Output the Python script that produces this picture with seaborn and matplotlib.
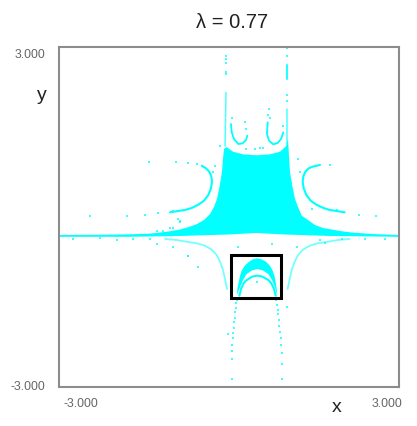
import matplotlib
matplotlib.use('Agg')
import matplotlib.pyplot as plt
from matplotlib.patches import Rectangle
from matplotlib.transforms import ScaledTranslation
import pandas as pd
import seaborn as sns

# main filled body of the set
body_x = [-3.0, -2.276, -1.747, -1.57, -1.394, -1.218, -1.041, -0.865, -0.706, -0.565, -0.441, -0.335, -0.265,
          -0.212, -0.168, -0.124, -0.106, -0.088, -0.041, 0.071, 0.247, 0.489, 0.723, 0.9, 1.006, 1.041,
          1.076, 1.121, 1.165, 1.218, 1.283, 1.394, 1.518, 1.659, 1.994, 2.17, 2.523, 3.0,
          3.0, 1.782, 0.988, 0.476, 0.0, -0.865, -1.747, -3.0]
body_y = [-0.318, -0.314, -0.305, -0.3, -0.293, -0.274, -0.252, -0.221, -0.176, -0.124, -0.053, 0.053, 0.176,
          0.318, 0.529, 0.794, 1.023, 1.2, 1.235, 1.152, 1.106, 1.089, 1.106, 1.152, 1.248, 1.376,
          0.794, 0.529, 0.318, 0.176, 0.023, -0.053, -0.141, -0.194, -0.252, -0.274, -0.3, -0.318,
          -0.349, -0.335, -0.309, -0.282, -0.309, -0.335, -0.349, -0.349]

# small crescent inside the box
crescent_x = [0.136, 0.15, 0.171, 0.194, 0.224, 0.274, 0.341, 0.415, 0.499, 0.582, 0.653, 0.718, 0.771, 0.803,
              0.824, 0.842, 0.852, 0.812, 0.759, 0.693, 0.6, 0.499, 0.406, 0.312, 0.247, 0.194]
crescent_y = [-1.388, -1.252, -1.153, -1.041, -0.948, -0.865, -0.8, -0.75, -0.729, -0.75, -0.789, -0.856, -0.948,
              -1.041, -1.153, -1.27, -1.388, -1.24, -1.112, -1.006, -0.944, -0.918, -0.944, -1.006, -1.112, -1.24]

# thin curves
arch_x = [0.182, 0.212, 0.252, 0.291, 0.341, 0.415, 0.499, 0.582, 0.665, 0.715, 0.753, 0.794, 0.824]
arch_y = [-1.388, -1.27, -1.182, -1.129, -1.094, -1.05, -1.035, -1.05, -1.094, -1.129, -1.182, -1.27, -1.388]
u_left_x = [0.035, 0.048, 0.088, 0.164, 0.242, 0.3, 0.323]
u_left_y = [1.641, 1.495, 1.376, 1.288, 1.3, 1.359, 1.435]
u_right_x = [0.683, 0.67, 0.706, 0.782, 0.859, 0.918, 0.958]
u_right_y = [1.671, 1.465, 1.346, 1.283, 1.306, 1.376, 1.495]
lobe_left_x = [-0.482, -0.406, -0.348, -0.312, -0.3, -0.318, -0.365, -0.441, -0.542, -0.658, -0.776, -0.865, -1.041]
lobe_left_y = [0.905, 0.859, 0.799, 0.718, 0.623, 0.506, 0.388, 0.288, 0.217, 0.159, 0.124, 0.111, 0.083]
lobe_right_x = [2.04, 1.866, 1.776, 1.665, 1.542, 1.441, 1.365, 1.318, 1.3, 1.312, 1.348, 1.406, 1.482, 1.606]
lobe_right_y = [0.083, 0.111, 0.124, 0.159, 0.217, 0.288, 0.388, 0.506, 0.623, 0.718, 0.799, 0.859, 0.89, 0.918]
low_left_x = [-1.129, -0.923, -0.746, -0.57, -0.424, -0.305, -0.217, -0.159, -0.106, -0.071, -0.035]
low_right_x = [2.129, 1.923, 1.746, 1.57, 1.424, 1.305, 1.217, 1.159, 1.106, 1.071, 1.035]
low_y = [-0.388, -0.406, -0.436, -0.464, -0.506, -0.577, -0.671, -0.789, -0.935, -1.094, -1.27]
stem_left_x = [-0.053, -0.06, -0.07]
stem_left_y = [2.2, 1.8, 1.25]
stem_right_a_y = [2.682, 2.435]
stem_right_b_y = [1.906, 1.288]
stem_right_x = [1.023, 1.023]

# loose points
dots_x = [-0.053, -0.053, -0.053, -0.053, -0.053, 1.023, 1.023, 1.03, 1.02,
          0.14, 0.13, 0.12, 0.11, 0.1, 0.09, 0.08, 0.075, 0.07, 0.06, 0.05, 0.05, 0.045,
          0.83, 0.85, 0.86, 0.87, 0.88, 0.89, 0.9, 0.91, 0.92, 0.93, 0.93, 0.94,
          -1.41, -0.935, -0.72, -0.565, -2.45, -1.8, -1.48, -1.25, -0.99, -0.865, -1.04, -1.27,
          -2.75, -2.28, -1.98, -1.69, -1.39, -1.27, -0.99, -0.72, -0.547, -0.72, -0.018, 0.16, 0.76, 1.02, 1.2,
          -0.159, -0.247, -0.282, 1.218, 1.253, 1.465, 1.78, 1.9, 2.3, 2.6, 1.6, 1.7, 2.0, 2.4, 2.75,
          0.3, 0.6, 0.72, 0.05, 0.95, 0.5, 0.45, 0.55,
          -1.165, -0.988, -0.865, -0.9, 0.3, 0.29, 0.69, 0.7]
dots_y = [2.841, 2.788, 2.717, 2.559, 2.523, 2.98, 2.85, 2.15, 2.05,
          -1.46, -1.52, -1.6, -1.68, -1.78, -1.86, -1.96, -2.05, -2.14, -2.25, -2.36, -2.5, -2.86,
          -1.46, -1.55, -1.64, -1.72, -1.82, -1.93, -2.03, -2.14, -2.26, -2.4, -2.6, -2.86,
          0.97, 0.97, 0.95, 0.935, 0.018, 0.018, 0.035, 0.07, 0.106, -0.07, -0.194, -0.247,
          -0.388, -0.37, -0.406, -0.388, -0.388, -0.476, -0.529, -0.688, -0.882, -0.69, -2.06, -0.53, -0.476,
          -1.59, -0.53,
          1.253, 0.9, 0.794, 1.023, 0.794, 0.141, 0.92, 0.12, 0.03, 0.02, -0.4, -0.45, -0.39, -0.38, -0.39,
          1.2, 1.21, 1.75, 1.75, 1.6, -1.15, 1.2, 1.21,
          -0.247, -0.194, -0.088, -0.035, 1.55, 1.68, 1.8, 1.9]

box_x = [0.03, 0.918]
box_y = [-1.429, -0.665]

tick_vals = [-3, 3]
tick_labels = ['-3.000', '3.000']

CYAN = '#00ffff'
GREY = '#666666'


def draw_curve(ax, xs, ys, width=1.1, alpha=1.0):
    sns.lineplot(x=xs, y=ys, ax=ax, color=CYAN, lw=width, alpha=alpha, sort=False, estimator=None, errorbar=None)


def plot_set():
    sns.set_style('white')
    plt.rcParams['font.family'] = ['Liberation Sans', 'DejaVu Sans']

    fig = plt.figure(figsize=(4.17, 4.27), dpi=100)
    ax = fig.add_axes([59 / 417, 39 / 427, 340 / 417, 340 / 427])

    ax.fill(body_x, body_y, color=CYAN, lw=0)
    ax.fill(crescent_x, crescent_y, color=CYAN, lw=0)

    draw_curve(ax, arch_x, arch_y, 1.5)
    draw_curve(ax, u_left_x, u_left_y, 1.3)
    draw_curve(ax, u_right_x, u_right_y, 1.3)
    draw_curve(ax, lobe_left_x, lobe_left_y, 1.5)
    draw_curve(ax, lobe_right_x, lobe_right_y, 1.5)
    draw_curve(ax, low_left_x, low_y, 1.3, 0.55)
    draw_curve(ax, low_right_x, low_y, 1.3, 0.55)
    draw_curve(ax, stem_left_x, stem_left_y, 1.1, 0.7)
    draw_curve(ax, stem_right_x, stem_right_a_y, 1.5, 0.85)
    draw_curve(ax, stem_right_x, stem_right_b_y, 1.1, 0.7)

    points = pd.DataFrame({'x': dots_x, 'y': dots_y})
    sns.scatterplot(data=points, x='x', y='y', ax=ax, color=CYAN, s=2, alpha=0.75, linewidth=0, marker='s')

    ax.add_patch(Rectangle((box_x[0], box_y[0]), box_x[1] - box_x[0], box_y[1] - box_y[0],
                           fill=False, ec='black', lw=2.2, zorder=5))

    ax.set_xlim(-3, 3)
    ax.set_ylim(-3, 3)
    ax.set_xticks(tick_vals)
    ax.set_yticks(tick_vals)
    ax.set_xticklabels(tick_labels, fontsize=8.8, color=GREY)
    ax.set_yticklabels(tick_labels, fontsize=8.8, color=GREY)
    ax.tick_params(axis='both', length=0)
    ax.tick_params(axis='x', pad=7)
    ax.tick_params(axis='y', pad=10)

    # corner labels sit inside the axis span
    xlabs = ax.get_xticklabels()
    xlabs[0].set_ha('left')
    xlabs[1].set_ha('right')
    xlabs[0].set_transform(xlabs[0].get_transform() + ScaledTranslation(0.04, 0, fig.dpi_scale_trans))
    xlabs[1].set_transform(xlabs[1].get_transform() + ScaledTranslation(0.03, 0, fig.dpi_scale_trans))
    ylabs = ax.get_yticklabels()
    ylabs[0].set_transform(ylabs[0].get_transform() + ScaledTranslation(0, 0.023, fig.dpi_scale_trans))
    ylabs[1].set_transform(ylabs[1].get_transform() + ScaledTranslation(0, -0.06, fig.dpi_scale_trans))

    for side in ax.spines.values():
        side.set_color('#8c8c8c')
        side.set_linewidth(1.5)

    ax.set_xlabel('')
    ax.set_ylabel('')
    fig.text(232 / 417, 1 - 22 / 427, 'λ = 0.77', fontsize=14.5, color='#222222', ha='center', va='center')
    fig.text(42 / 417, 1 - 95 / 427, 'y', fontsize=14, color='#222222', ha='center', va='center')
    fig.text(337 / 417, 1 - 408 / 427, 'x', fontsize=14, color='#222222', ha='center', va='center')

    fig.savefig('out.png', dpi=100)


if __name__ == "__main__":
    plot_set()
